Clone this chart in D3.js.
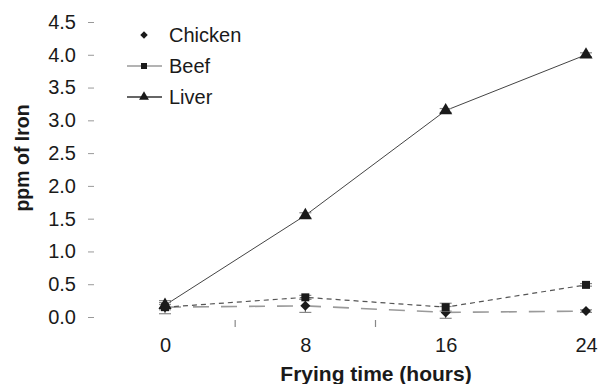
<!DOCTYPE html>
<html>
<head>
<meta charset="utf-8">
<script src="https://cdn.jsdelivr.net/npm/d3@7"></script>
<style>
  html, body { margin: 0; padding: 0; background: #fff; }
  svg { display: block; }
  text { font-family: "Liberation Sans", Arial, Helvetica, sans-serif; fill: #1a1a1a; }
</style>
</head>
<body>
<svg id="chart" width="600" height="384"></svg>
<script>
// ---- data ----
const hours = [0, 8, 16, 24];
const xTickLabels = ["0", "8", "16", "24"];
const minorXTicks = [4, 12];
const yTicks = [0, 0.5, 1.0, 1.5, 2.0, 2.5, 3.0, 3.5, 4.0, 4.5];
const seriesNames = ["Chicken", "Beef", "Liver"];
const chicken = [0.15, 0.17, 0.07, 0.09];
const beef = [0.15, 0.30, 0.15, 0.49];
const liver = [0.18, 1.55, 3.15, 4.00];
const chickenErr = [0.10, 0.10, 0.09, 0.02];
const beefErr = [0.04, 0.03, 0.06, 0.02];
const liverErr = [0.04, 0.04, 0.03, 0.03];

const svg = d3.select("#chart");
const x = d3.scaleLinear().domain([0, 24]).range([165, 586]);
const y = d3.scaleLinear().domain([0, 4.5]).range([317, 22]);

// y axis (no domain line)
const yAxis = svg.append("g").attr("transform", "translate(94,0)")
  .call(d3.axisLeft(y).tickValues(yTicks).tickFormat(d3.format(".1f")).tickSize(6).tickPadding(12));
yAxis.select(".domain").remove();
yAxis.selectAll(".tick line").attr("stroke", "#999").attr("stroke-width", 1);
yAxis.selectAll(".tick text").style("font-size", "20px").attr("fill", "#1a1a1a")
  .style("font-family", "'Liberation Sans', Arial, sans-serif");

// x axis labels (no domain line)
const xAxis = svg.append("g").attr("transform", "translate(0,322)")
  .call(d3.axisBottom(x).tickValues(hours).tickFormat((d, i) => xTickLabels[i]).tickSize(0).tickPadding(16));
xAxis.select(".domain").remove();
xAxis.selectAll(".tick text").style("font-size", "20px").attr("fill", "#1a1a1a")
  .style("font-family", "'Liberation Sans', Arial, sans-serif");
// faint minor ticks
svg.append("g").selectAll("line").data(minorXTicks).join("line")
  .attr("x1", d => x(d)).attr("x2", d => x(d))
  .attr("y1", 320).attr("y2", 327)
  .attr("stroke", "#888").attr("stroke-width", 1.2);

// axis titles
svg.append("text").attr("x", 376).attr("y", 381).attr("text-anchor", "middle")
  .style("font-size", "21px").style("font-weight", "bold").text("Frying time (hours)");
svg.append("text").attr("transform", "translate(29,158) rotate(-90)").attr("text-anchor", "middle")
  .style("font-size", "19.5px").style("font-weight", "bold").text("ppm of Iron");

const series = [
  { name: seriesNames[0], values: chicken, err: chickenErr, symbol: d3.symbolSquare, rot: 45, size: 50, stroke: "#9a9a9a", dash: "16,12", width: 1.6 },
  { name: seriesNames[1], values: beef, err: beefErr, symbol: d3.symbolSquare, rot: 0, size: 64, stroke: "#555", dash: "5,4", width: 1.2 },
  { name: seriesNames[2], values: liver, err: liverErr, symbol: d3.symbolTriangle, rot: 0, size: 75, stroke: "#444", dash: null, width: 1 }
];

const line = d3.line().x((d, i) => x(hours[i])).y(d => y(d));

series.forEach(s => {
  const g = svg.append("g");
  g.append("path").datum(s.values).attr("d", line)
    .attr("fill", "none").attr("stroke", s.stroke).attr("stroke-width", s.width)
    .attr("stroke-dasharray", s.dash);
  // error bars
  const eb = g.append("g").selectAll("g").data(s.values).join("g");
  eb.append("line")
    .attr("x1", (d, i) => x(hours[i])).attr("x2", (d, i) => x(hours[i]))
    .attr("y1", (d, i) => y(d - s.err[i])).attr("y2", (d, i) => y(d + s.err[i]))
    .attr("stroke", "#555").attr("stroke-width", 1);
  eb.append("line")
    .attr("x1", (d, i) => x(hours[i]) - 6).attr("x2", (d, i) => x(hours[i]) + 6)
    .attr("y1", (d, i) => y(d - s.err[i])).attr("y2", (d, i) => y(d - s.err[i]))
    .attr("stroke", "#888").attr("stroke-width", 1.2);
  eb.append("line")
    .attr("x1", (d, i) => x(hours[i]) - 6).attr("x2", (d, i) => x(hours[i]) + 6)
    .attr("y1", (d, i) => y(d + s.err[i])).attr("y2", (d, i) => y(d + s.err[i]))
    .attr("stroke", "#888").attr("stroke-width", 1.2);
  // markers
  g.append("g").selectAll("path").data(s.values).join("path")
    .attr("transform", (d, i) => `translate(${x(hours[i])},${y(d)}) rotate(${s.rot})`)
    .attr("d", d3.symbol().type(s.symbol).size(s.size))
    .attr("fill", "#1a1a1a");
});

// legend
const legendY = [35, 66, 97];
const legendLine = [null, "#9a9a9a", "#333"];
const legendSym = [d3.symbolSquare, d3.symbolSquare, d3.symbolTriangle];
const legendRot = [45, 0, 0];
const legendSize = [28, 36, 42];
const leg = svg.append("g");
seriesNames.forEach((n, i) => {
  if (legendLine[i]) {
    leg.append("line").attr("x1", 127).attr("x2", 162).attr("y1", legendY[i]).attr("y2", legendY[i])
      .attr("stroke", legendLine[i]).attr("stroke-width", 1.3);
  }
  leg.append("path").attr("transform", `translate(144,${legendY[i]}) rotate(${legendRot[i]})`)
    .attr("d", d3.symbol().type(legendSym[i]).size(legendSize[i])).attr("fill", "#1a1a1a");
  leg.append("text").attr("x", 169).attr("y", legendY[i] + 7)
    .style("font-size", "20px").text(n);
});
</script>
</body>
</html>
